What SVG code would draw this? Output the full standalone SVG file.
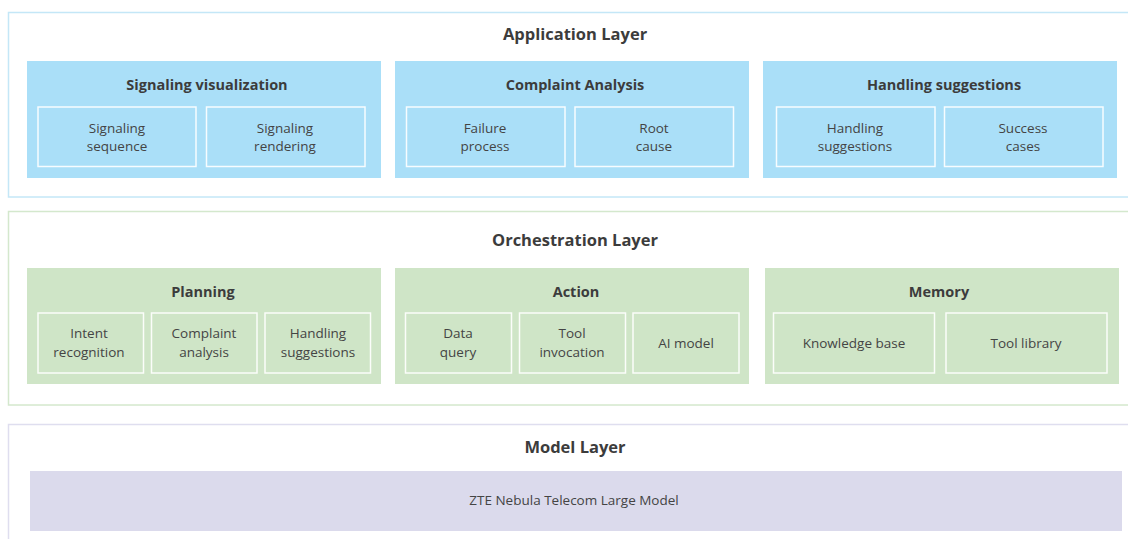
<svg xmlns="http://www.w3.org/2000/svg" width="1128" height="539" viewBox="0 0 1128 539">
  <style>
    text { font-family: "Open Sans", "Noto Sans", "Liberation Sans", sans-serif; fill: #3c3c3c; text-anchor: middle; }
    .layer-title { font-size: 16.5px; font-weight: bold; }
    .group-title { font-size: 14.5px; font-weight: bold; }
    .item { font-size: 13.5px; fill: #444; }
    .frame { fill: #fff; stroke-width: 1.5; }
    .app-frame { stroke: #c4e7f7; }
    .orch-frame { stroke: #d4e8cd; }
    .model-frame { stroke: #dfdeef; }
    .app-group { fill: #aadff8; }
    .orch-group { fill: #cfe5c7; }
    .model-box { fill: #dbdaec; }
    .cell { fill: none; stroke: #ffffff; stroke-width: 1.5; opacity: 0.9; }
  </style>

  <rect width="1128" height="539" fill="#ffffff"/>

  <!-- Application layer -->
  <g id="application-layer">
    <rect class="frame app-frame" x="8.5" y="12.5" width="1130" height="184.5"/>
    <text class="layer-title" x="575" y="40">Application Layer</text>
  </g>

  <g id="signaling-visualization">
    <rect class="app-group" x="27" y="61" width="354" height="117"/>
    <text class="group-title" x="207" y="90">Signaling visualization</text>
    <rect class="cell" x="38" y="107" width="158" height="59.5"/>
    <text class="item" x="117" y="133">Signaling</text>
    <text class="item" x="117" y="151">sequence</text>
    <rect class="cell" x="206.5" y="107" width="158.5" height="59.5"/>
    <text class="item" x="285" y="133">Signaling</text>
    <text class="item" x="285" y="151">rendering</text>
  </g>

  <g id="complaint-analysis">
    <rect class="app-group" x="395" y="61" width="354" height="117"/>
    <text class="group-title" x="575" y="90">Complaint Analysis</text>
    <rect class="cell" x="406.5" y="107" width="158.5" height="59.5"/>
    <text class="item" x="485" y="133">Failure</text>
    <text class="item" x="485" y="151">process</text>
    <rect class="cell" x="575" y="107" width="158.5" height="59.5"/>
    <text class="item" x="654" y="133">Root</text>
    <text class="item" x="654" y="151">cause</text>
  </g>

  <g id="handling-suggestions">
    <rect class="app-group" x="763" y="61" width="354" height="117"/>
    <text class="group-title" x="944" y="90">Handling suggestions</text>
    <rect class="cell" x="776.5" y="107" width="158.5" height="59.5"/>
    <text class="item" x="855" y="133">Handling</text>
    <text class="item" x="855" y="151">suggestions</text>
    <rect class="cell" x="944.5" y="107" width="158.5" height="59.5"/>
    <text class="item" x="1023" y="133">Success</text>
    <text class="item" x="1023" y="151">cases</text>
  </g>

  <!-- Orchestration layer -->
  <g id="orchestration-layer">
    <rect class="frame orch-frame" x="8.5" y="211.5" width="1130" height="193.5"/>
    <text class="layer-title" x="575" y="246">Orchestration Layer</text>
  </g>

  <g id="planning">
    <rect class="orch-group" x="27" y="268" width="354" height="116"/>
    <text class="group-title" x="203" y="297">Planning</text>
    <rect class="cell" x="38" y="313" width="105.5" height="60"/>
    <text class="item" x="89" y="338">Intent</text>
    <text class="item" x="89" y="357">recognition</text>
    <rect class="cell" x="151.5" y="313" width="105.5" height="60"/>
    <text class="item" x="204" y="338">Complaint</text>
    <text class="item" x="204" y="357">analysis</text>
    <rect class="cell" x="265" y="313" width="105.5" height="60"/>
    <text class="item" x="318" y="338">Handling</text>
    <text class="item" x="318" y="357">suggestions</text>
  </g>

  <g id="action">
    <rect class="orch-group" x="395" y="268" width="354" height="116"/>
    <text class="group-title" x="576" y="297">Action</text>
    <rect class="cell" x="405.5" y="313" width="106" height="60"/>
    <text class="item" x="458" y="338">Data</text>
    <text class="item" x="458" y="357">query</text>
    <rect class="cell" x="519.5" y="313" width="106" height="60"/>
    <text class="item" x="572" y="338">Tool</text>
    <text class="item" x="572" y="357">invocation</text>
    <rect class="cell" x="633" y="313" width="106" height="60"/>
    <text class="item" x="686" y="348">AI model</text>
  </g>

  <g id="memory">
    <rect class="orch-group" x="765" y="268" width="354" height="116"/>
    <text class="group-title" x="939" y="297">Memory</text>
    <rect class="cell" x="773.5" y="313" width="161" height="60"/>
    <text class="item" x="854" y="348">Knowledge base</text>
    <rect class="cell" x="946" y="313" width="161" height="60"/>
    <text class="item" x="1026" y="348">Tool library</text>
  </g>

  <!-- Model layer -->
  <g id="model-layer">
    <rect class="frame model-frame" x="8.5" y="424.5" width="1130" height="130"/>
    <text class="layer-title" x="575" y="453">Model Layer</text>
  </g>

  <g id="zte-nebula-model">
    <rect class="model-box" x="30" y="471" width="1092" height="60"/>
    <text class="item" x="574" y="505">ZTE Nebula Telecom Large Model</text>
  </g>

  <g id="connectors"></g>
</svg>
